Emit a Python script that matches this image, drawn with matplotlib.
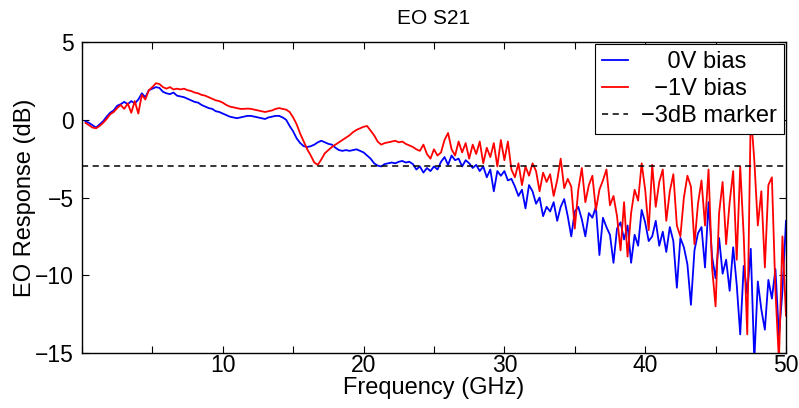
import numpy as np
import matplotlib
matplotlib.use("Agg")
import matplotlib.pyplot as plt
from matplotlib.ticker import MultipleLocator, FuncFormatter

# EO response (dB), sampled every 0.25 GHz from 0.25 to 50 GHz
bias_0v = [
    -0.1, -0.2, -0.35, -0.5, -0.3, -0.1, 0.2, 0.45, 0.6, 0.9,
    1.0, 1.15, 1.0, 1.2, 1.05, 1.3, 1.7, 1.45, 1.9, 2.0,
    2.1, 2.05, 1.8, 1.7, 1.65, 1.75, 1.55, 1.5, 1.45, 1.35,
    1.25, 1.15, 1.1, 0.95, 0.85, 0.75, 0.7, 0.55, 0.5, 0.4,
    0.3, 0.2, 0.15, 0.1, 0.15, 0.2, 0.25, 0.25, 0.2, 0.15,
    0.1, 0.05, 0.15, 0.2, 0.25, 0.25, 0.15, 0.0, -0.4, -0.75,
    -1.2, -1.5, -1.7, -1.75, -1.7, -1.6, -1.45, -1.35, -1.45, -1.55,
    -1.6, -1.8, -1.95, -2.0, -1.95, -2.0, -1.95, -1.9, -2.0, -2.1,
    -2.3, -2.5, -2.8, -2.95, -3.0, -2.85, -2.8, -2.75, -2.8, -2.7,
    -2.65, -2.75, -2.7, -2.85, -3.2, -3.0, -3.4, -3.1, -3.3, -3.0,
    -3.2, -2.7, -2.4, -2.9, -2.3, -2.6, -2.5, -3.0, -2.6, -2.8,
    -3.1, -2.9, -3.3, -3.0, -3.7, -3.2, -4.6, -3.3, -3.6, -3.3,
    -3.9, -3.8, -4.3, -4.9, -4.5, -5.7, -4.2, -4.6, -5.4, -5.0,
    -6.2, -5.6, -5.9, -5.3, -6.5, -5.6, -5.1, -6.2, -7.5, -5.9,
    -5.6, -6.4, -7.5, -6.0, -6.3, -5.6, -8.7, -6.3, -6.9, -7.4,
    -9.2, -7.0, -6.6, -7.7, -6.8, -9.2, -7.4, -8.1, -5.8, -6.6,
    -7.8, -7.5, -6.5, -8.1, -7.2, -8.5, -6.9, -7.8, -10.8, -7.6,
    -8.2, -9.3, -11.9, -8.4, -7.3, -6.9, -9.5, -5.3, -8.8, -10.2,
    -7.6, -9.9, -9.0, -11.0, -8.2, -10.6, -13.8, -9.4, -11.2, -8.3,
    -15.5, -10.4, -12.2, -13.5, -10.3, -11.5, -9.6, -13.9, -11.0, -6.5,
]
bias_1v = [
    -0.2, -0.35, -0.5, -0.55, -0.4, -0.2, 0.05, 0.35, 0.5, 0.75,
    0.95, 0.7, 1.05, 0.45, 1.2, 0.4, 1.6, 1.3, 1.9, 2.1,
    2.35, 2.3, 2.1, 2.0, 2.1, 1.95, 2.0, 1.95, 2.0, 1.9,
    1.85, 1.75, 1.7, 1.6, 1.55, 1.45, 1.35, 1.25, 1.2, 1.1,
    0.95, 0.85, 0.8, 0.75, 0.7, 0.7, 0.72, 0.7, 0.65, 0.6,
    0.55, 0.5, 0.55, 0.6, 0.7, 0.75, 0.7, 0.65, 0.5, 0.15,
    -0.3, -0.9, -1.4, -1.9, -2.3, -2.75, -2.9, -2.55, -2.15, -1.95,
    -1.75, -1.6, -1.45, -1.3, -1.15, -1.0, -0.8, -0.65, -0.55, -0.45,
    -0.4, -0.7, -1.0, -1.4, -1.6, -1.5, -1.45, -1.4, -1.35, -1.45,
    -1.4, -1.55, -1.65, -1.75, -1.9, -2.0, -1.6, -2.2, -2.5, -1.9,
    -2.3, -2.1, -1.3, -0.85, -1.9, -2.3, -1.4, -2.1, -1.5, -2.5,
    -1.6, -2.2, -1.4, -2.8, -1.8, -2.4, -1.5, -3.0, -1.3, -2.6,
    -1.4, -3.2, -3.7, -2.8, -4.2, -3.0, -3.6, -2.8, -3.3, -4.6,
    -3.4, -4.0, -3.5, -4.9, -3.9, -2.5, -4.4, -3.8, -4.3, -7.0,
    -4.5, -3.1, -5.3, -4.2, -3.6, -5.8, -4.5, -3.9, -3.2, -5.5,
    -4.9, -6.2, -8.4, -5.3, -8.8, -6.0, -4.5, -5.2, -2.8, -4.5,
    -7.1, -2.9, -5.6, -4.0, -3.2, -6.5, -4.6, -3.5, -6.8, -7.5,
    -5.0, -3.6, -4.3, -8.0, -5.4, -3.9, -6.8, -3.2, -9.5, -12.0,
    -6.0, -4.0, -8.0, -5.3, -3.3, -9.0, -3.0, -7.5, -13.8, 0.5,
    -2.6, -6.8, -4.6, -9.5, -4.2, -3.7, -11.0, -15.5, -7.5, -12.6,
]
freq = np.linspace(0.25, 50, len(bias_0v))
marker_level = -3

plt.rcParams["font.family"] = ["Liberation Sans", "DejaVu Sans"]

fig = plt.figure(figsize=(7.99, 4.08), dpi=100)
ax = fig.add_axes([0.1026, 0.1348, 0.8811, 0.7622])

ax.plot(freq, bias_0v, color="#0000ff", linewidth=1.3, label="    0V bias")
ax.plot(freq, bias_1v, color="#ff0000", linewidth=1.3, label="  \u22121V bias")
ax.plot([0, 50], [marker_level, marker_level], color="black", linestyle="--",
        linewidth=1.1, dashes=(4, 3), label="\u22123dB marker")

ax.set_xlim(0, 50)
ax.set_ylim(-15, 5)

ax.xaxis.set_major_locator(MultipleLocator(5))
ax.xaxis.set_major_formatter(FuncFormatter(lambda v, p: f"{v:.0f}" if v % 10 == 0 and v > 0 else ""))
ax.yaxis.set_major_locator(MultipleLocator(5))
ax.yaxis.set_major_formatter(FuncFormatter(lambda v, p: f"{v:.0f}".replace("-", "\u2212")))
ax.tick_params(direction="in", top=True, right=True, length=5, width=0.8,
               labelsize=16.5)
ax.tick_params(axis="x", pad=1)
ax.tick_params(axis="y", pad=6)
for s in ax.spines.values():
    s.set_linewidth(1.0)

ax.set_title("EO S21", fontsize=15, pad=13)
ax.set_xlabel("Frequency (GHz)", fontsize=17, labelpad=0)
ax.set_ylabel("EO Response (dB)", fontsize=17, labelpad=-1)

leg = ax.legend(loc="upper right", fontsize=17, fancybox=False, framealpha=1,
                edgecolor="black", borderaxespad=0.1, handlelength=1.1,
                labelspacing=0.2, borderpad=0.3, handletextpad=0.55)
leg.get_frame().set_linewidth(0.8)
leg.set_zorder(10)

fig.savefig("out.png", dpi=100)
